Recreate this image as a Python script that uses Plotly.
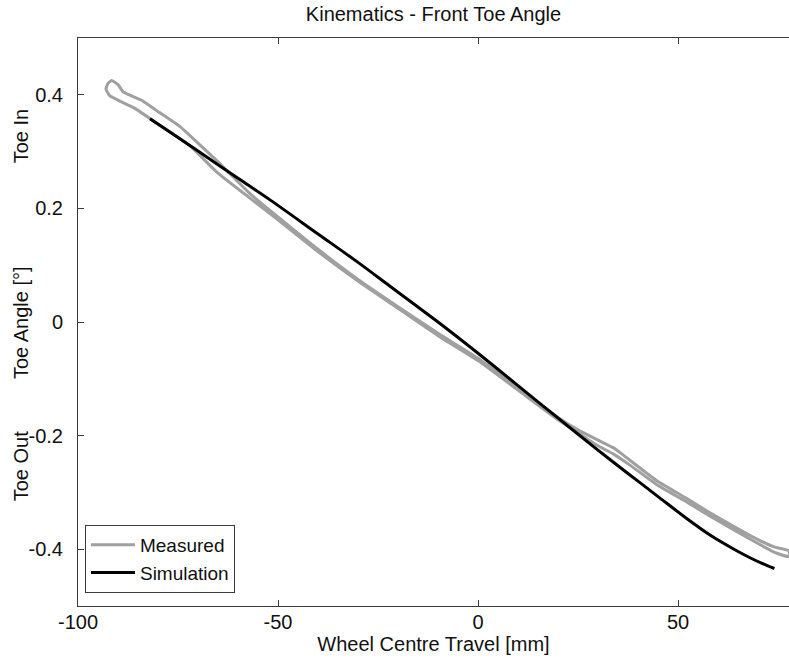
import plotly.graph_objects as go

# Wheel centre travel [mm] and toe angle [deg]
# Measured: rig sweep out and back (hysteresis loop)
meas_travel = [-91.6, -90, -88.7, -84, -80.3, -74.5, -70, -65, -57, -50, -40, -30, -20, -10, 0,
               10, 20, 25, 30, 34, 37, 45, 52, 58, 64, 70, 74, 77.75,
               77.75, 74, 70, 64, 58, 52, 45, 38, 34, 30, 25, 20, 10, 0, -10, -20, -30, -40,
               -50, -57, -65, -72, -80.3, -86, -92, -93, -92.5, -91.6]
meas_toe = [0.425, 0.418, 0.405, 0.39, 0.372, 0.344, 0.315, 0.282, 0.226, 0.185, 0.128, 0.075,
            0.027, -0.02, -0.064, -0.116, -0.168, -0.19, -0.208, -0.222, -0.238, -0.281, -0.31,
            -0.336, -0.36, -0.383, -0.396, -0.403,
            -0.413, -0.405, -0.39, -0.366, -0.342, -0.316, -0.288, -0.252, -0.233, -0.218,
            -0.195, -0.172, -0.12, -0.068, -0.024, 0.024, 0.072, 0.124, 0.18, 0.218, 0.262,
            0.31, 0.35, 0.377, 0.398, 0.41, 0.42, 0.425]

# Simulation model
sim_travel = [-82, -75, -70, -60, -52, -40, -30, -22, -10, 0, 10, 20.5, 28.8, 37, 45.5,
              52, 58, 64, 68, 71, 74.1]
sim_toe = [0.358, 0.325, 0.301, 0.253, 0.215, 0.155, 0.105, 0.063, 0.0, -0.055, -0.112,
           -0.172, -0.219, -0.264, -0.31, -0.345, -0.375, -0.4, -0.415, -0.425, -0.434]

x_ticks = [-100, -50, 0, 50]
x_tick_text = ["-100", "-50", "0", "50"]
y_ticks = [-0.4, -0.2, 0, 0.2, 0.4]
y_tick_text = ["-0.4", "-0.2", "0", "0.2", "0.4"]

FONT = "Liberation Sans, Arial, sans-serif"
AX = "#3c3c3c"
FS = 20
PLOT_W = 789 - 78

fig = go.Figure()
fig.add_trace(go.Scatter(x=meas_travel, y=meas_toe, mode="lines", name="Measured",
                         line=dict(color="#a0a0a0", width=3, shape="spline", smoothing=0.5)))
fig.add_trace(go.Scatter(x=sim_travel, y=sim_toe, mode="lines", name="Simulation",
                         line=dict(color="#000000", width=3, shape="spline", smoothing=0.8)))

fig.update_layout(
    width=789, height=660,
    margin=dict(l=78, r=0, t=38, b=54),
    paper_bgcolor="white", plot_bgcolor="white",
    font=dict(family=FONT, size=FS, color="#111111"),
    title=dict(text="Kinematics - Front Toe Angle", x=433.5 / 789, xanchor="center",
               y=1 - 14 / 660, yanchor="middle", font=dict(size=FS)),
    showlegend=True,
    legend=dict(x=0.0098, y=0.023, xanchor="left", yanchor="bottom",
                bordercolor=AX, borderwidth=1, bgcolor="white",
                font=dict(size=19), tracegroupgap=0, itemwidth=44),
    xaxis=dict(range=[-100, 77.75], tickvals=x_ticks, ticktext=x_tick_text, ticks="inside",
               ticklen=6, tickcolor=AX, showline=True, linecolor=AX, linewidth=1,
               mirror="ticks", showgrid=False, zeroline=False, tickfont=dict(size=FS),
               ticklabelstandoff=-2,
               title=dict(text="Wheel Centre Travel [mm]", standoff=0, font=dict(size=FS))),
    yaxis=dict(range=[-0.5, 0.5], tickvals=y_ticks, ticktext=y_tick_text, ticks="inside",
               ticklen=6, tickcolor=AX, showline=True, linecolor=AX, linewidth=1,
               mirror=False, showgrid=False, zeroline=False, tickfont=dict(size=FS),
               ticklabelstandoff=10),
)

# Vertical labels beside the y axis: axis title plus direction hints
for label, yv in [("Toe In", 0.327), ("Toe Angle [°]", 0.0), ("Toe Out", -0.254)]:
    fig.add_annotation(text=label, xref="paper", yref="y", x=(21 - 78) / PLOT_W, y=yv,
                       showarrow=False, textangle=-90, xanchor="center", yanchor="middle",
                       font=dict(size=FS))

fig.write_html("out.html")
